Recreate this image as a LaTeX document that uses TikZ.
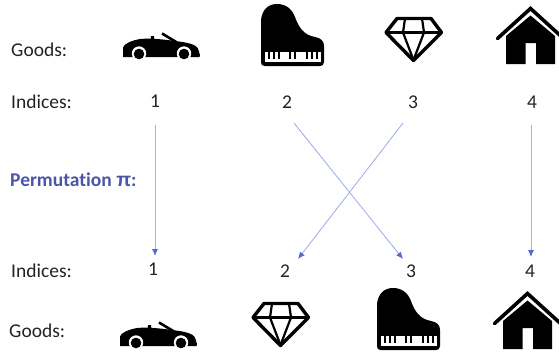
\documentclass[tikz,border=0pt]{standalone}
\usepackage{fontspec}
\setmainfont[Ligatures=NoCommon]{Carlito}
\newfontfamily\pifont{Liberation Sans}
\usetikzlibrary{arrows.meta}
\definecolor{txt}{HTML}{222222}
\definecolor{perm}{HTML}{4A55A8}
\definecolor{arr}{HTML}{A4B0E6}
\definecolor{tip}{HTML}{5468CF}
\tikzset{
  x=1pt,y=-1pt,
  lab/.style={font=\fontsize{19.5}{22}\selectfont,text=txt,anchor=west,inner sep=0pt},
  num/.style={font=\fontsize{19.5}{22}\selectfont,text=txt,inner sep=0pt},
  permarrow/.style={draw=arr,line width=0.9pt,-{Latex[length=7pt,width=6pt,color=tip]}},
  car/.pic={
    \fill[black] (123,57) -- (123,47.5) .. controls (124,43.5) and (132,40.5) .. (140,39)
      .. controls (150,38) and (165,39.5) .. (175,41) .. controls (188,42.5) and (196,44.5) .. (198,48.5)
      -- (200,55) -- (199.5,57) -- cycle;
    \fill[white] (139,53.5) circle (7.2) (184,53.5) circle (7.2);
    \fill[black] (139,54) circle (5.3) (184,54) circle (5.3);
    \fill[black] (150.5,41) -- (151,36) -- (154,36) -- (154.5,41) -- cycle;
    \draw[black,line width=2.6pt] (162,33.5) -- (177,42.5);
  },
  piano/.pic={
    \fill[black] (261,62) -- (261,20) .. controls (262,10) and (268,4) .. (277,4)
      .. controls (286,4) and (292,9) .. (295,17) .. controls (299,28) and (304,35) .. (315,37)
      .. controls (321,38) and (324,41) .. (324,46) -- (324,62)
      .. controls (324,65) and (322,66) .. (320,66) -- (265,66) .. controls (262,66) and (261,65) .. (261,62) -- cycle;
    \fill[white] (265,52) rectangle (321,62);
    \foreach \k in {268.5,274,279,290,295,306.5,311.5,316.5}
      \fill[black] (\k-1,52) rectangle (\k+1,58.5);
  },
  gem/.pic={
    \draw[black,line width=3.4pt,line join=round] (397,18.5) -- (431,18.5) -- (441.5,32.5) -- (413.5,60.5) -- (386,32.5) -- cycle;
    \draw[black,line width=2.4pt] (386,32.5) -- (441.5,32.5);
    \draw[black,line width=2.2pt,line join=round] (405,18.5) -- (403,32.5) -- (413.5,60);
    \draw[black,line width=2.2pt,line join=round] (422,18.5) -- (424,32.5) -- (413.5,60);
  },
  house/.pic={
    \draw[black,line width=3.6pt,line cap=round,line join=miter] (497.5,38.5) -- (530.5,8.5) -- (563.5,38.5);
    \fill[black] (506,36) -- (530.5,15.5) -- (555,36) -- (555,64) -- (536,64) -- (536,43) -- (525.5,43) -- (525.5,64) -- (506,64) -- cycle;
  }
}
\begin{document}
\begin{tikzpicture}
\useasboundingbox (0,0) rectangle (559,354);
\clip (0,0) rectangle (559,354);
\node[lab] (goodstop) at (11,50) {Goods:};
\node[lab] (indtop) at (11,102) {Indices:};
\node[lab,text=perm,font=\fontsize{19.5}{22}\selectfont\bfseries] (perm) at (10,180) {Permutation {\pifont π}:};
\node[lab] (indbot) at (11,271) {Indices:};
\node[lab] (goodsbot) at (9,331) {Goods:};
\node[num] (t1) at (155,101) {1};
\node[num] (t2) at (287,102) {2};
\node[num] (t3) at (413,102) {3};
\node[num] (t4) at (532,102) {4};
\node[num] (b1) at (153,269) {1};
\node[num] (b2) at (285,271) {2};
\node[num] (b3) at (411,271) {3};
\node[num] (b4) at (530,271) {4};
\pic at (0,0) {car};
\pic at (0,0) {piano};
\pic at (0,0) {gem};
\pic at (0,0) {house};
\pic at (-3,289) {car};
\pic at (116,284) {piano};
\pic at (-133,285) {gem};
\pic at (-3,285) {house};
\coordinate (s1) at (155,125);
\coordinate (e1) at (155,256);
\coordinate (s2) at (294,123);
\coordinate (e2) at (403,259);
\coordinate (s3) at (403,123);
\coordinate (e3) at (298,259);
\coordinate (s4) at (531,125);
\coordinate (e4) at (531,257);
\draw[permarrow] (s1) -- (e1);
\draw[permarrow] (s2) -- (e2);
\draw[permarrow] (s3) -- (e3);
\draw[permarrow] (s4) -- (e4);
\end{tikzpicture}
\end{document}
